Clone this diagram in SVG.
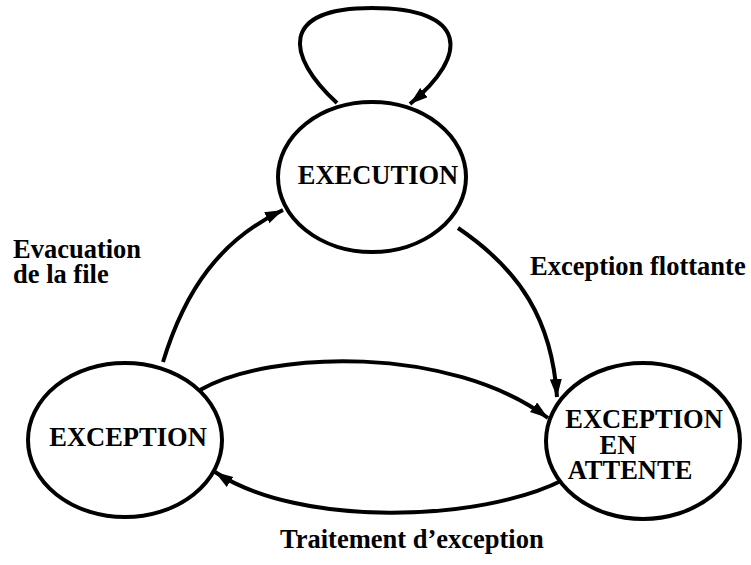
<svg xmlns="http://www.w3.org/2000/svg" width="751" height="565" viewBox="0 0 751 565">
<style>
.node{fill:#fff;stroke:#000;stroke-width:4}
.t{font-family:"Liberation Serif","Times New Roman",serif;font-weight:bold;font-size:26.5px;fill:#000}
.c{fill:none;stroke:#000;stroke-width:4}
</style>
<defs>
<marker id="ah" markerUnits="userSpaceOnUse" markerWidth="20" markerHeight="14" refX="18" refY="6" orient="auto">
<path d="M0,0 L18,6 L0,12 Z" fill="#000"/>
</marker>
</defs>
<rect width="751" height="565" fill="#fff"/>
<g id="connectors">
<path class="c" d="M337,103 C285,55 280,8 372,8 C468,8 470,55 410,104" marker-end="url(#ah)"/>
<path class="c" d="M163,362 C185,290 220,240 283,210" marker-end="url(#ah)"/>
<path class="c" d="M458,228 C520,270 552,320 557,397" marker-end="url(#ah)"/>
<path class="c" d="M200,390 C270,350 450,345 548,418" marker-end="url(#ah)"/>
<path class="c" d="M563,480 C480,522 300,528 215,472" marker-end="url(#ah)"/>
</g>
<g id="execution">
<ellipse class="node" cx="372" cy="177" rx="94" ry="75"/>
<text class="t" x="378" y="184" text-anchor="middle">EXECUTION</text>
</g>
<g id="exception">
<ellipse class="node" cx="125" cy="440" rx="97" ry="77"/>
<text class="t" x="128" y="446" text-anchor="middle">EXCEPTION</text>
</g>
<g id="exception-en-attente">
<ellipse class="node" cx="643" cy="441" rx="97" ry="78"/>
<text class="t" x="644" y="428" text-anchor="middle">EXCEPTION</text>
<text class="t" x="618" y="454" text-anchor="middle">EN</text>
<text class="t" x="630" y="479" text-anchor="middle">ATTENTE</text>
</g>
<g id="labels">
<text class="t" x="13" y="258">Evacuation</text>
<text class="t" x="13" y="283">de la file</text>
<text class="t" x="530" y="275">Exception flottante</text>
<text class="t" x="280" y="548">Traitement d’exception</text>
</g>
</svg>
